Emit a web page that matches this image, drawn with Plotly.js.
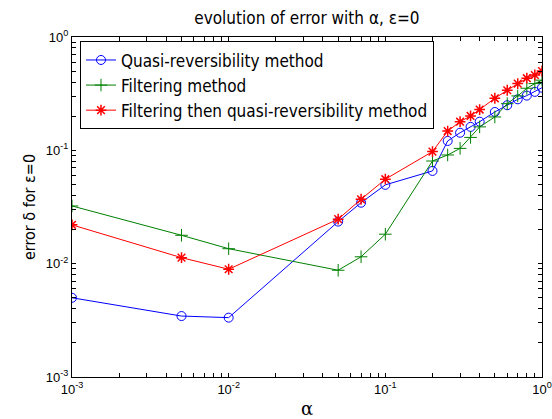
<!DOCTYPE html>
<html>
<head>
<meta charset="utf-8">
<script src="https://cdn.plot.ly/plotly-3.0.1.min.js"></script>
<style>html,body{margin:0;padding:0;background:#fff;}#chart{width:552px;height:419px;}</style>
</head>
<body>
<div id="chart"></div>
<script>
var alphaValues = [0.001, 0.005, 0.01, 0.05, 0.07, 0.1, 0.2, 0.25, 0.3, 0.35, 0.4, 0.5, 0.6, 0.7, 0.8, 0.9, 1.0];
var quasiReversibility = [0.0050, 0.00345, 0.00334, 0.0235, 0.0345, 0.0496, 0.0658, 0.121, 0.143, 0.161, 0.179, 0.218, 0.25, 0.282, 0.304, 0.328, 0.357];
var filtering = [0.0323, 0.0178, 0.01355, 0.00875, 0.0115, 0.0182, 0.0805, 0.091, 0.104, 0.13, 0.161, 0.197, 0.258, 0.302, 0.353, 0.388, 0.416];
var filteringThenQR = [0.022, 0.0113, 0.00893, 0.0247, 0.037, 0.0556, 0.0975, 0.148, 0.179, 0.201, 0.229, 0.288, 0.339, 0.388, 0.433, 0.462, 0.501];
var seriesNames = ['Quasi-reversibility method', 'Filtering method', 'Filtering then quasi-reversibility method'];
var decadeValues = [0.001, 0.01, 0.1, 1];
var decadeLabels = ['10<sup>-3</sup>', '10<sup>-2</sup>', '10<sup>-1</sup>', '10<sup>0</sup>'];
var minorMantissas = [2, 3, 4, 5, 6, 7, 8, 9];

// minor tick positions between decades
var minorVals = [];
decadeValues.slice(0, -1).forEach(function (d) {
  minorMantissas.forEach(function (m) { minorVals.push(m * d); });
});

var condensed = '"DejaVu Sans Condensed", "Liberation Sans Narrow", "DejaVu Sans", sans-serif';

var traces = [
  {x: alphaValues, y: quasiReversibility, name: seriesNames[0], mode: 'lines+markers', type: 'scatter',
   line: {color: '#0000ff', width: 1}, marker: {symbol: 'circle-open', size: 9, color: '#0000ff', line: {width: 1}}},
  {x: alphaValues, y: filtering, name: seriesNames[1], mode: 'lines+markers', type: 'scatter',
   line: {color: '#008000', width: 1}, marker: {symbol: 'cross-thin-open', size: 9, color: '#008000', line: {width: 1, color: '#008000'}}},
  {x: alphaValues, y: filteringThenQR, name: seriesNames[2], mode: 'lines+markers', type: 'scatter',
   line: {color: '#ff0000', width: 1}, marker: {symbol: 'asterisk-open', size: 9, color: '#ff0000', line: {width: 1.5, color: '#ff0000'}}}
];

var axisCommon = {
  type: 'log', range: [-3, 0], tickmode: 'array', tickvals: decadeValues, ticktext: decadeLabels,
  showgrid: false, zeroline: false,
  showline: true, linecolor: '#000', linewidth: 1, mirror: 'allticks', ticks: 'inside', ticklen: 4,
  tickcolor: '#000', tickfont: {family: 'Arial, "Liberation Sans", sans-serif', size: 13, color: '#000'},
  minor: {tickmode: 'array', tickvals: minorVals, ticks: 'inside', ticklen: 4, tickcolor: '#000', showgrid: false}
};

var layout = {
  width: 552, height: 419,
  margin: {l: 72, r: 10, t: 37, b: 42},
  paper_bgcolor: '#fff', plot_bgcolor: '#fff',
  title: {text: 'evolution of error with α, ε=0', x: 0.556, xanchor: 'center', y: 0.958, yanchor: 'middle',
          font: {family: condensed, size: 17, color: '#000'}},
  xaxis: Object.assign({}, axisCommon, {title: {text: 'α', font: {family: '"DejaVu Serif", serif', size: 18, color: '#000'}, standoff: 12}}),
  yaxis: Object.assign({}, axisCommon, {title: {text: 'error δ for ε=0', font: {family: condensed, size: 16, color: '#000'}, standoff: 6}}),
  showlegend: true,
  legend: {x: 0.017, y: 0.987, xanchor: 'left', yanchor: 'top', bgcolor: '#fff', bordercolor: '#000', borderwidth: 1,
           font: {family: condensed, size: 17, color: '#000'}, tracegroupgap: 0}
};

Plotly.newPlot('chart', traces, layout, {displayModeBar: false, staticPlot: true});
</script>
</body>
</html>
